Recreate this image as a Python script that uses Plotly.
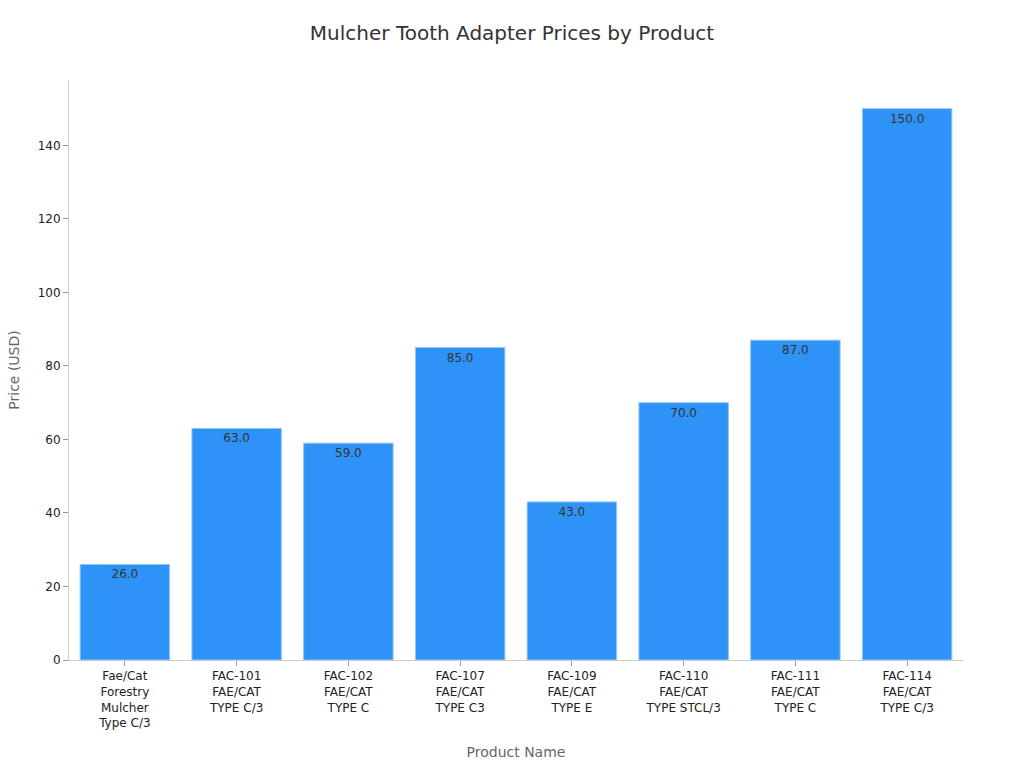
import plotly.graph_objects as go

products = [
    "Fae/Cat<br>Forestry<br>Mulcher<br>Type C/3",
    "FAC-101<br>FAE/CAT<br>TYPE C/3",
    "FAC-102<br>FAE/CAT<br>TYPE C",
    "FAC-107<br>FAE/CAT<br>TYPE C3",
    "FAC-109<br>FAE/CAT<br>TYPE E",
    "FAC-110<br>FAE/CAT<br>TYPE STCL/3",
    "FAC-111<br>FAE/CAT<br>TYPE C",
    "FAC-114<br>FAE/CAT<br>TYPE C/3",
]
prices = [26.0, 63.0, 59.0, 85.0, 43.0, 70.0, 87.0, 150.0]

fig = go.Figure(go.Bar(
    x=products,
    y=prices,
    text=[f"{p:.1f}" for p in prices],
    textposition="inside",
    insidetextanchor="end",
    textfont=dict(size=12, color="#333333", family="DejaVu Sans"),
    marker=dict(color="#2E93F7", line=dict(color="#8EC3F5", width=1)),
))

fig.update_layout(
    width=1024, height=768,
    margin=dict(l=69, r=61, t=80, b=108),
    paper_bgcolor="white", plot_bgcolor="white",
    font=dict(family="DejaVu Sans", size=12, color="#333333"),
    title=dict(text="Mulcher Tooth Adapter Prices by Product", x=0.5, xanchor="center",
               y=0.957, yanchor="middle", font=dict(size=20, color="#333333")),
    bargap=0.2,
    showlegend=False,
    xaxis=dict(
        title=dict(text="Product Name", font=dict(size=14, color="#666666"), standoff=17),
        showline=True, linecolor="#cccccc", linewidth=1, automargin=False,
        ticks="outside", ticklen=5, tickcolor="#999999",
        showgrid=False, tickfont=dict(size=12, color="#222222"),
    ),
    yaxis=dict(
        title=dict(text="Price (USD)", font=dict(size=14, color="#666666"), standoff=14),
        range=[0, 157.8], dtick=20, automargin=False,
        showline=True, linecolor="#cccccc", linewidth=1,
        ticks="outside", ticklen=5, tickcolor="#999999",
        showgrid=False, zeroline=False, tickfont=dict(size=12, color="#222222"),
    ),
)

fig.write_html("out.html")
